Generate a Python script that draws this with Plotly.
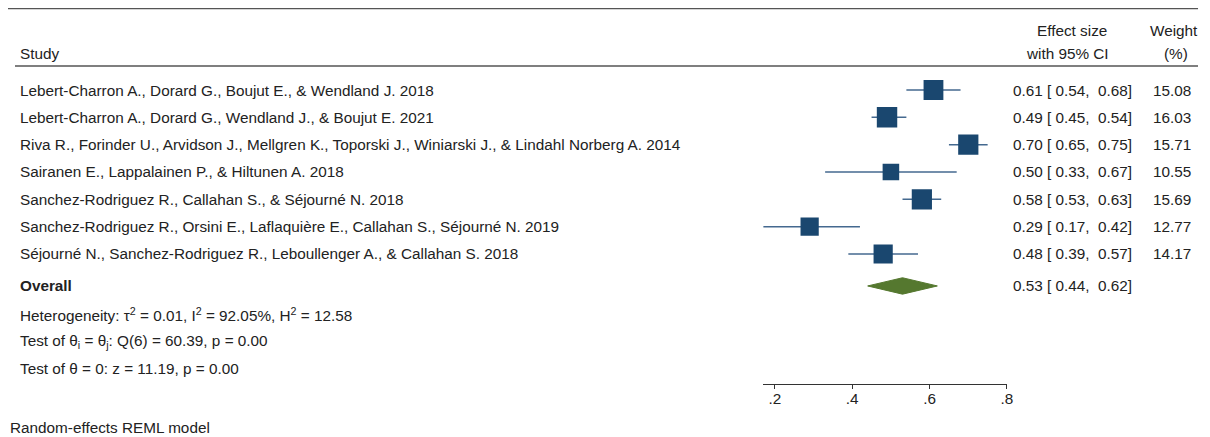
import numpy as np
import plotly.graph_objects as go

studies = [
    "Lebert-Charron A., Dorard G., Boujut E., & Wendland J. 2018",
    "Lebert-Charron A., Dorard G., Wendland J., & Boujut E. 2021",
    "Riva R., Forinder U., Arvidson J., Mellgren K., Toporski J., Winiarski J., & Lindahl Norberg A. 2014",
    "Sairanen E., Lappalainen P., & Hiltunen A. 2018",
    "Sanchez-Rodriguez R., Callahan S., & Séjourné N. 2018",
    "Sanchez-Rodriguez R., Orsini E., Laflaquière E., Callahan S., Séjourné N. 2019",
    "Séjourné N., Sanchez-Rodriguez R., Leboullenger A., & Callahan S. 2018",
]
es = [0.61, 0.49, 0.70, 0.50, 0.58, 0.29, 0.48]
ci_lo = [0.54, 0.45, 0.65, 0.33, 0.53, 0.17, 0.39]
ci_hi = [0.68, 0.54, 0.75, 0.67, 0.63, 0.42, 0.57]
weight = [15.08, 16.03, 15.71, 10.55, 15.69, 12.77, 14.17]
overall = [0.53, 0.44, 0.62]
stats = [
    "Heterogeneity: τ<sup>2</sup> = 0.01, I<sup>2</sup> = 92.05%, H<sup>2</sup> = 12.58",
    "Test of θ<sub>i</sub> = θ<sub>j</sub>: Q(6) = 60.39, p = 0.00",
    "Test of θ = 0: z = 11.19, p = 0.00",
]
ticks = [0.2, 0.4, 0.6, 0.8]
tick_text = [".2", ".4", ".6", ".8"]

# page body has an 8px margin, so the figure is a bit smaller and shifted
OFF = 8
W, H = 1210 - OFF, 437 - OFF
NAVY = "#1a476f"
GREEN = "#55782f"
FONT = "Liberation Sans, Arial, sans-serif"
FS = 15.3
nb = "\u00a0"

def px(x):
    return (x - OFF) / W

def py(y):
    return 1 - (y - OFF) / H

rows = np.arange(1, len(studies) + 1)
y_over = len(studies) + 1.17
y_stats = [y_over + 1.06, y_over + 2.05, y_over + 3.03]

fig = go.Figure()

# confidence intervals
for y, lo, hi in zip(rows, ci_lo, ci_hi):
    fig.add_trace(go.Scatter(x=[lo, hi], y=[y, y], mode="lines",
                             line=dict(color="#44698f", width=1.5),
                             hoverinfo="skip", showlegend=False))

# weighted squares
fig.add_trace(go.Scatter(x=es, y=rows, mode="markers",
                         marker=dict(symbol="square", color=NAVY, opacity=1,
                                     size=[5.1 * np.sqrt(w) for w in weight],
                                     line=dict(width=0)),
                         hoverinfo="skip", showlegend=False))

# overall diamond
est, lo, hi = overall
dh = 0.3
fig.add_trace(go.Scatter(x=[lo, est, hi, est, lo],
                         y=[y_over, y_over - dh, y_over, y_over + dh, y_over],
                         mode="lines", fill="toself", fillcolor=GREEN,
                         line=dict(color=GREEN, width=1),
                         hoverinfo="skip", showlegend=False))

ann = []
def txt(x, y, s, anchor="left", bold=False, yref="y"):
    ann.append(dict(x=x, y=y, xref="paper", yref=yref, text=("<b>%s</b>" % s) if bold else s,
                    showarrow=False, xanchor=anchor, yanchor="middle",
                    font=dict(family=FONT, size=FS, color="#222")))

col_left = px(18)
col_es = px(1016)
col_w = px(1199)

txt(col_left, -0.35, "Study")
txt(px(1077), -1.16, "Effect size", "center")
txt(px(1073), -0.35, "with 95% CI", "center")
txt(px(1180), -1.16, "Weight", "center")
txt(px(1182), -0.35, "(%)", "center")

for y, s, e, lo_, hi_, w in zip(rows, studies, es, ci_lo, ci_hi, weight):
    txt(col_left, y, s)
    txt(col_es, y, f"{e:.2f} [{nb}{lo_:.2f},{nb}{nb}{hi_:.2f}]")
    txt(col_w, y, f"{w:.2f}", "right")

txt(col_left, y_over, "Overall", bold=True)
txt(col_es, y_over, f"{est:.2f} [{nb}{lo:.2f},{nb}{nb}{hi:.2f}]")
for y, s in zip(y_stats, stats):
    txt(col_left, y, s)

txt(px(8), py(427), "Random-effects REML model", yref="paper")

shapes = [
    dict(type="line", xref="paper", yref="paper", x0=px(8), x1=px(1204), y0=py(8.7), y1=py(8.7),
         line=dict(color="#555", width=1.3)),
    dict(type="line", xref="paper", yref="paper", x0=px(15), x1=px(1204), y0=py(66), y1=py(66),
         line=dict(color="#555", width=1.3)),
]

y_top = 1 + (OFF - 90) / 27.33
y_bot = 1 + (383.5 - 90) / 27.33

fig.update_layout(
    width=W, height=H,
    margin=dict(l=0, r=0, t=0, b=0),
    plot_bgcolor="white", paper_bgcolor="white",
    annotations=ann, shapes=shapes,
    xaxis=dict(domain=[px(767), px(1012)], range=[0.17, 0.8],
               showline=True, linecolor="#333", linewidth=1,
               ticks="outside", ticklen=4, tickcolor="#333",
               ticklabelstandoff=-3,
               tickvals=ticks, ticktext=tick_text, showgrid=False, zeroline=False,
               tickfont=dict(family=FONT, size=FS, color="#222")),
    yaxis=dict(domain=[py(383.5), 1], range=[y_bot, y_top],
               visible=False, showgrid=False, zeroline=False),
)

fig.write_html("out.html")
